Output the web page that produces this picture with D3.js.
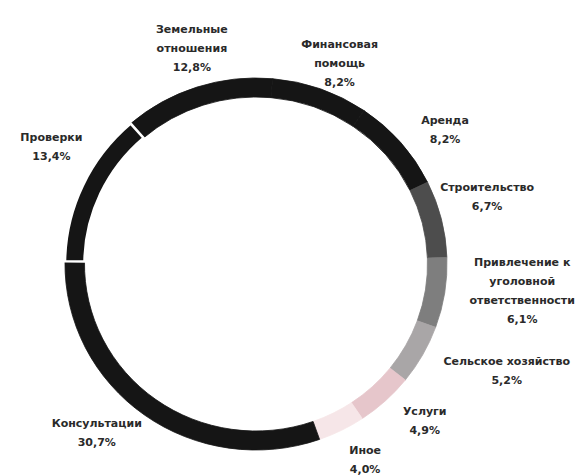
<!DOCTYPE html>
<html><head><meta charset="utf-8">
<script src="https://cdn.jsdelivr.net/npm/d3@7"></script>
<style>body{margin:0;background:#fff;}svg{display:block;}</style>
</head><body>
<svg id="chart" width="580" height="475"></svg>
<script>
// ---- data ----
const categories = ["Земельные отношения","Финансовая помощь","Аренда","Строительство","Привлечение к уголовной ответственности","Сельское хозяйство","Услуги","Иное","Консультации","Проверки"];
const labelLines = [["Земельные","отношения"],["Финансовая","помощь"],["Аренда"],["Строительство"],["Привлечение к","уголовной","ответственности"],["Сельское хозяйство"],["Услуги"],["Иное"],["Консультации"],["Проверки"]];
const values = [12.8, 8.2, 8.2, 6.7, 6.1, 5.2, 4.9, 4.0, 30.7, 13.4];
const valueLabels = ["12,8%","8,2%","8,2%","6,7%","6,1%","5,2%","4,9%","4,0%","30,7%","13,4%"];

// ---- layout / style ----
const colors = ["#151515","#151515","#151515","#4d4d4d","#7e7e7e","#a9a6a7","#e6c6cb","#f6e6e8","#151515","#151515"];
const cx = 256, cy = 264, rOuter = 186, rInner = 167, rLabel = 230;
const nudge = {
  "Земельные отношения":[7,3], "Финансовая помощь":[6,16], "Аренда":[15,16], "Строительство":[8,-11],
  "Привлечение к уголовной ответственности":[39,-9], "Сельское хозяйство":[50,-6], "Услуги":[13,-13],
  "Иное":[6,-10], "Консультации":[-25,-18], "Проверки":[4,-20]
};
const startDeg = -41;

const data = categories.map((c,i)=>({name:c, value:values[i], lines:labelLines[i], pct:valueLabels[i], color:colors[i]}));
const svg = d3.select("#chart");
const pie = d3.pie().value(d=>d.value).sort(null)
  .startAngle(startDeg*Math.PI/180).endAngle(startDeg*Math.PI/180 + 2*Math.PI);
const arcs = pie(data);
const arc = d3.arc().innerRadius(rInner).outerRadius(rOuter);

const g = svg.append("g").attr("transform",`translate(${cx},${cy}) scale(1.027,1)`);
const order = arcs.slice().sort((a,b)=> (a.data.name==="Проверки") - (b.data.name==="Проверки"));
g.selectAll("path").data(order).join("path")
  .attr("d", arc)
  .attr("fill", d=>d.data.color)
  .attr("stroke", d=> d.data.name==="Проверки" ? "#fff" : d.data.color)
  .attr("stroke-width", d=> d.data.name==="Проверки" ? 2.5 : 0.8);

const lineH = 19;
const lg = svg.append("g").attr("font-family","DejaVu Sans, sans-serif").attr("font-size",11)
  .attr("font-weight","bold").attr("fill","#2a2a2a").attr("text-anchor","middle");
arcs.forEach(a=>{
  const mid = (a.startAngle + a.endAngle)/2;
  const n = nudge[a.data.name] || [0,0];
  const x = cx + rLabel*Math.sin(mid) + n[0];
  const y = cy - rLabel*Math.cos(mid) + n[1];
  const lines = a.data.lines.concat([a.data.pct]);
  const top = y - (lines.length-1)*lineH/2;
  const t = lg.append("text").attr("x", x);
  lines.forEach((ln,i)=>{
    t.append("tspan").attr("x", x).attr("y", top + i*lineH).attr("dy","0.35em").text(ln);
  });
});
</script>
</body></html>
